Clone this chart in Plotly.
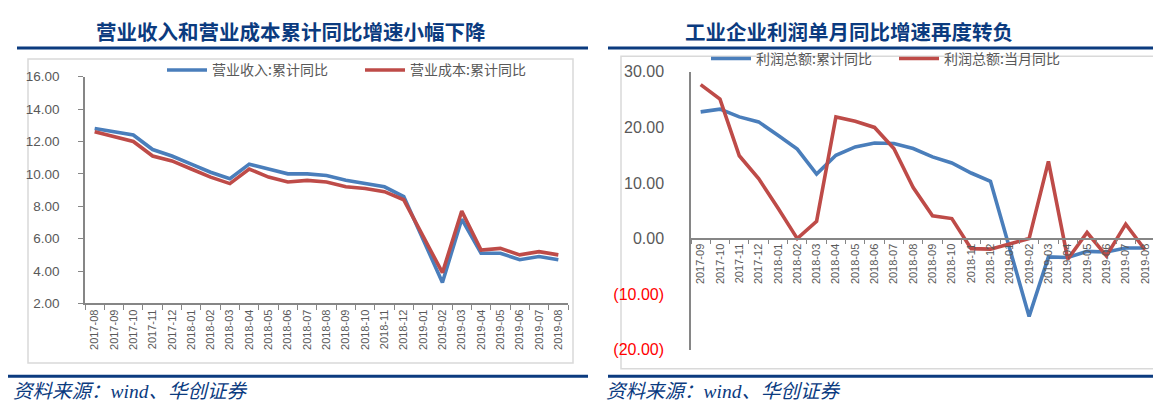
import plotly.graph_objects as go

W, H = 1161, 407

# ---------------- data ----------------
left_months = ["2017-08", "2017-09", "2017-10", "2017-11", "2017-12",
               "2018-01", "2018-02", "2018-03", "2018-04", "2018-05", "2018-06",
               "2018-07", "2018-08", "2018-09", "2018-10", "2018-11", "2018-12",
               "2019-01", "2019-02", "2019-03", "2019-04", "2019-05", "2019-06",
               "2019-07", "2019-08"]
revenue_yoy = [12.8, 12.6, 12.4, 11.5, 11.1, 10.6, 10.1, 9.7, 10.6, 10.3, 10.0,
               10.0, 9.9, 9.6, 9.4, 9.2, 8.6, None, 3.3, 7.2, 5.1, 5.1, 4.7,
               4.9, 4.7]
cost_yoy = [12.6, 12.3, 12.0, 11.1, 10.8, 10.3, 9.8, 9.4, 10.3, 9.8, 9.5,
            9.6, 9.5, 9.2, 9.1, 8.9, 8.4, None, 3.9, 7.7, 5.3, 5.4, 5.0,
            5.2, 5.0]

right_months = ["2017-09", "2017-10", "2017-11", "2017-12", "2018-01", "2018-02",
                "2018-03", "2018-04", "2018-05", "2018-06", "2018-07", "2018-08",
                "2018-09", "2018-10", "2018-11", "2018-12", "2019-01", "2019-02",
                "2019-03", "2019-04", "2019-05", "2019-06", "2019-07", "2019-08"]
profit_cum_yoy = [22.8, 23.3, 21.9, 21.0, 18.6, 16.1, 11.6, 15.0, 16.5, 17.2,
                  17.1, 16.2, 14.7, 13.6, 11.8, 10.3, None, -14.0, -3.3, -3.4,
                  -2.3, -2.4, -1.7, -1.7]
profit_month_yoy = [27.7, 25.1, 14.9, 10.8, 5.5, 0.0, 3.1, 21.9, 21.1, 20.0,
                    16.2, 9.2, 4.1, 3.6, -1.8, -1.9, None, 0.0, 13.9, -3.7,
                    1.1, -3.1, 2.6, -2.0]

left_ticks = [2, 4, 6, 8, 10, 12, 14, 16]
right_ticks = [-20, -10, 0, 10, 20, 30]

left_names = ["营业收入:累计同比", "营业成本:累计同比"]
right_names = ["利润总额:累计同比", "利润总额:当月同比"]
titles = ["营业收入和营业成本累计同比增速小幅下降", "工业企业利润单月同比增速再度转负"]
source_text = "资料来源：wind、华创证券"

BLUE = "#4A7EBB"
RED = "#BE4B48"
NAVY = "#0B3B7F"
GRAY_TXT = "#595959"
AXIS = "#868686"


def px(x):
    return x / W


def py(y):
    return 1 - y / H


def fmt(v):
    if v < 0:
        return '<span style="color:#FF0000">(%.2f)</span>' % abs(v)
    return "%.2f" % v


fig = go.Figure()
LW = 3.6
fig.add_trace(go.Scatter(x=left_months, y=revenue_yoy, name=left_names[0], mode="lines",
                         line=dict(color=BLUE, width=LW), connectgaps=True,
                         xaxis="x", yaxis="y", legend="legend"))
fig.add_trace(go.Scatter(x=left_months, y=cost_yoy, name=left_names[1], mode="lines",
                         line=dict(color=RED, width=LW), connectgaps=True,
                         xaxis="x", yaxis="y", legend="legend"))
fig.add_trace(go.Scatter(x=right_months, y=profit_cum_yoy, name=right_names[0], mode="lines",
                         line=dict(color=BLUE, width=LW), connectgaps=True,
                         xaxis="x2", yaxis="y2", legend="legend2"))
fig.add_trace(go.Scatter(x=right_months, y=profit_month_yoy, name=right_names[1], mode="lines",
                         line=dict(color=RED, width=LW), connectgaps=True,
                         xaxis="x2", yaxis="y2", legend="legend2"))

xtickfont = dict(family="Liberation Sans, Arial", size=11, color=GRAY_TXT)

# zero-line y position for right chart
r_top, r_bot = 58.3, 348.3
zero_y = r_top + (30 - 0) / 50 * (r_bot - r_top)

fig.update_layout(
    width=W, height=H, margin=dict(l=0, r=0, t=0, b=0),
    paper_bgcolor="white", plot_bgcolor="white",
    showlegend=True,
    xaxis=dict(domain=[px(77), px(560)], anchor="y", type="category",
               categoryorder="array", categoryarray=left_months,
               range=[-0.5, len(left_months) - 0.5],
               showline=True, linecolor=AXIS, linewidth=1.5,
               ticks="outside", tickson="boundaries", ticklen=5, tickcolor=AXIS,
               tickangle=-90, tickfont=xtickfont, showgrid=False, zeroline=False),
    yaxis=dict(domain=[py(300), py(63.3)], anchor="x", range=[2, 16],
               tickvals=left_ticks, ticktext=[fmt(v) for v in left_ticks],
               showline=True, linecolor=AXIS, linewidth=1.5,
               ticks="outside", ticklen=5, tickcolor=AXIS, ticklabelstandoff=16,
               tickfont=dict(family="Liberation Sans, Arial", size=13.5, color=GRAY_TXT),
               showgrid=False, zeroline=False),
    xaxis2=dict(domain=[px(683), px(1146.7)], anchor="free", position=py(zero_y),
                type="category", categoryorder="array", categoryarray=right_months,
                range=[-0.5, len(right_months) - 0.5],
                showline=True, linecolor=AXIS, linewidth=1.5,
                ticks="outside", tickson="boundaries", ticklen=5, tickcolor=AXIS,
                tickangle=-90, tickfont=xtickfont, showgrid=False, zeroline=False),
    yaxis2=dict(domain=[py(r_bot), py(r_top)], anchor="x2", range=[-20, 30],
                tickvals=right_ticks, ticktext=[fmt(v) for v in right_ticks],
                showline=True, linecolor=AXIS, linewidth=1.5,
                ticks="", ticklabelstandoff=22,
                tickfont=dict(family="Liberation Sans, Arial", size=16, color=GRAY_TXT),
                showgrid=False, zeroline=False),
    legend=dict(orientation="h", x=px(154), y=py(40), xanchor="left", yanchor="top",
                font=dict(family="Noto Sans CJK SC", size=14, color=GRAY_TXT),
                bgcolor="rgba(0,0,0,0)", entrywidth=143, itemwidth=40),
    legend2=dict(orientation="h", x=px(698), y=py(28), xanchor="left", yanchor="top",
                 font=dict(family="Noto Sans CJK SC", size=14, color=GRAY_TXT),
                 bgcolor="rgba(0,0,0,0)", entrywidth=133, itemwidth=40),
)

shapes = []
# frames
shapes.append(dict(type="rect", xref="paper", yref="paper", x0=px(20), x1=px(565),
                   y0=py(362), y1=py(45), line=dict(color="#D9D9D9", width=1.5),
                   layer="below"))
shapes.append(dict(type="rect", xref="paper", yref="paper", x0=px(613), x1=px(1149),
                   y0=py(368), y1=py(42), line=dict(color="#D9D9D9", width=1.5),
                   layer="below"))
# rules
for x0, x1 in [(9, 580), (600, 1161)]:
    shapes.append(dict(type="line", xref="paper", yref="paper", x0=px(x0), x1=px(x1),
                       y0=py(33.5), y1=py(33.5), line=dict(color=NAVY, width=3)))
for x0, x1 in [(0, 580), (600, 1161)]:
    shapes.append(dict(type="line", xref="paper", yref="paper", x0=px(x0), x1=px(x1),
                       y0=py(376), y1=py(376), line=dict(color=NAVY, width=3)))
fig.update_layout(shapes=shapes)

annotations = []
for cx, t in [(283, titles[0]), (841, titles[1])]:
    annotations.append(dict(text="<b>" + t + "</b>", x=px(cx), y=py(16), xref="paper", yref="paper",
                            xanchor="center", yanchor="middle", showarrow=False,
                            font=dict(family="Noto Sans CJK SC", size=20.5, color=NAVY)))
for x0 in [3, 596]:
    annotations.append(dict(text=source_text, x=px(x0), y=py(392), xref="paper", yref="paper",
                            xanchor="left", yanchor="middle", showarrow=False,
                            font=dict(family="Liberation Serif, Noto Sans CJK SC", size=19.5,
                                      color=NAVY, style="italic")))
fig.update_layout(annotations=annotations)

fig.write_html("out.html")
